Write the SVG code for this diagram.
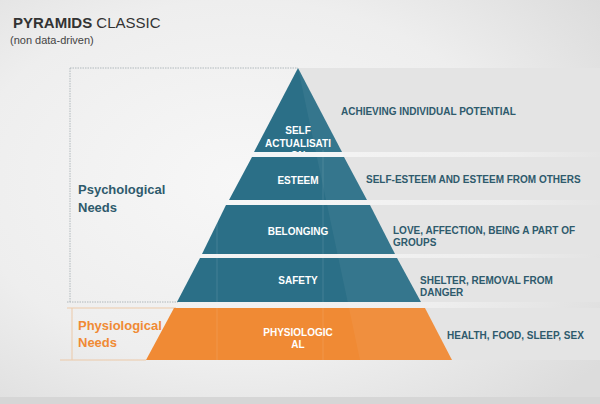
<svg xmlns="http://www.w3.org/2000/svg" width="600" height="404" viewBox="0 0 600 404">
<defs>
<radialGradient id="bg" cx="0.4" cy="0.45" r="0.75">
<stop offset="0" stop-color="#f7f7f7"/>
<stop offset="0.6" stop-color="#eeeeee"/>
<stop offset="1" stop-color="#dcdcdc"/>
</radialGradient>
<clipPath id="pyr"><polygon points="298,68 453,360 145,360"/></clipPath>
<style>
.lvl{fill:#2b6f87}
.phy{fill:#f08a34}
.lbl{font-family:"Liberation Sans",Arial,sans-serif;font-weight:bold;font-size:10px;fill:#ffffff;text-anchor:middle}
.desc{font-family:"Liberation Sans",Arial,sans-serif;font-weight:bold;font-size:10px;fill:#2e5a6c}
.grp{font-family:"Liberation Sans",Arial,sans-serif;font-weight:bold;font-size:13px}
.band{fill:#e4e4e4}
.dot{stroke:#b0b8bc;stroke-width:1;stroke-dasharray:1.5 1;fill:none}
</style>
</defs>
<rect x="0" y="0" width="600" height="404" fill="url(#bg)"/>
<rect x="0" y="397" width="600" height="7" fill="#d6d6d6"/>
<text x="13" y="28" font-family="Liberation Sans,Arial,sans-serif" font-size="15" fill="#333"><tspan font-weight="bold">PYRAMIDS</tspan> CLASSIC</text>
<text x="10" y="44" font-family="Liberation Sans,Arial,sans-serif" font-size="11" fill="#444">(non data-driven)</text>
<g id="bands">
<rect class="band" x="298" y="68" width="302" height="84"/>
<rect class="band" x="298" y="157" width="302" height="43"/>
<rect class="band" x="298" y="205" width="302" height="49"/>
<rect class="band" x="298" y="258" width="302" height="44"/>
<rect class="band" x="298" y="308" width="302" height="52"/>
</g>
<g id="brackets">
<path class="dot" d="M70,68 H298 M70,68 V302 M67,302 H178"/>
<path d="M67,308 H176 M72,308 V360 M60,360 H146" stroke="#ecc9a8" stroke-width="1" fill="none"/>
</g>
<g id="self">
<polygon class="lvl" points="298,68 342,152 254,152"/>
<text class="lbl" x="298" y="134">SELF</text>
<text class="lbl" x="298" y="147">ACTUALISATI</text>
<text class="lbl" x="298" y="159">ON</text>
</g>
<g id="esteem">
<polygon class="lvl" points="252,157 344,157 367,200 229,200"/>
<text class="lbl" x="298" y="184">ESTEEM</text>
</g>
<g id="belonging">
<polygon class="lvl" points="226,205 370,205 395,254 202,254"/>
<text class="lbl" x="298" y="235">BELONGING</text>
</g>
<g id="safety">
<polygon class="lvl" points="200,258 397,258 421,302 177,302"/>
<text class="lbl" x="298" y="284">SAFETY</text>
</g>
<g id="physiological">
<polygon class="phy" points="174,308 425,308 452,360 146,360"/>
<text class="lbl" x="298" y="336">PHYSIOLOGIC</text>
<text class="lbl" x="298" y="348">AL</text>
</g>
<g id="overlay" clip-path="url(#pyr)">
<polygon points="298,68 360,360 460,360 460,68" fill="#ffffff" opacity="0.05"/>
<rect x="0" y="152" width="600" height="5" fill="#f3f5f6"/>
<line x1="217" y1="150" x2="217" y2="360" stroke="#ffffff" stroke-opacity="0.12"/>
<line x1="323" y1="150" x2="323" y2="360" stroke="#ffffff" stroke-opacity="0.12"/>
</g>
<g id="labels">
<text class="grp" x="78" y="194" fill="#2e5a6c">Psychological</text>
<text class="grp" x="78" y="212" fill="#2e5a6c">Needs</text>
<text class="grp" x="78" y="330" fill="#f08a34">Physiological</text>
<text class="grp" x="78" y="347" fill="#f08a34">Needs</text>
<text class="desc" x="341" y="115">ACHIEVING INDIVIDUAL POTENTIAL</text>
<text class="desc" x="366" y="183">SELF-ESTEEM AND ESTEEM FROM OTHERS</text>
<text class="desc" x="393" y="234">LOVE, AFFECTION, BEING A PART OF</text>
<text class="desc" x="393" y="246">GROUPS</text>
<text class="desc" x="420" y="284">SHELTER, REMOVAL FROM</text>
<text class="desc" x="420" y="296">DANGER</text>
<text class="desc" x="447" y="339" fill="#f08a34">HEALTH, FOOD, SLEEP, SEX</text>
</g>
</svg>
